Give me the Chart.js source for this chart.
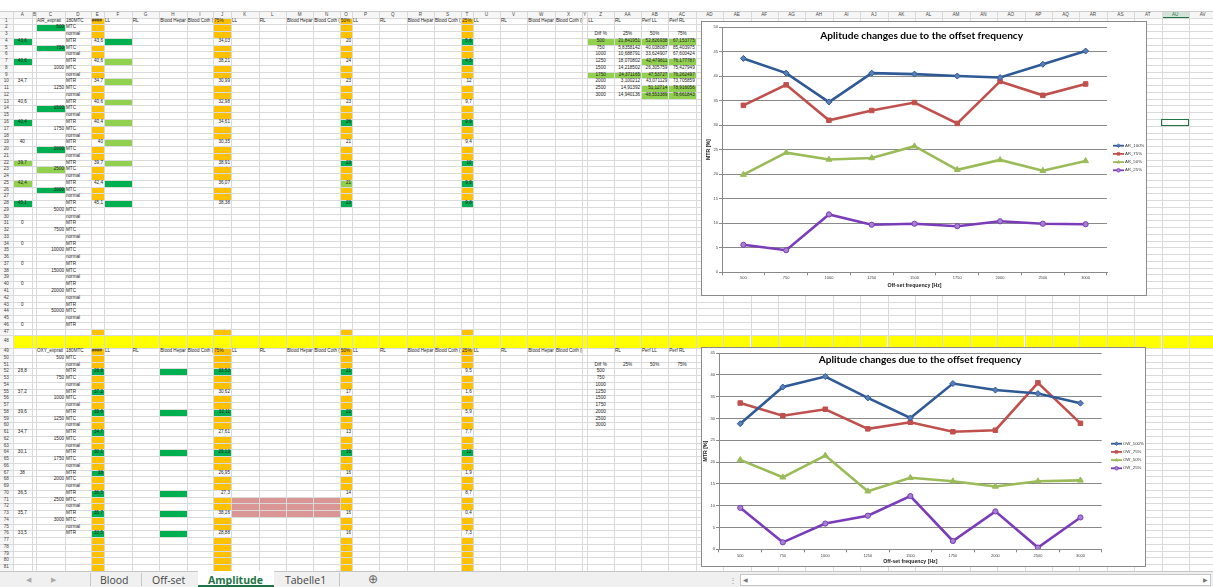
<!DOCTYPE html>
<html>
<head>
<meta charset="utf-8">
<title>Amplitude</title>
<script src="https://cdn.jsdelivr.net/npm/chart.js@4.4.1/dist/chart.umd.min.js"></script>
<style>
html, body { margin: 0; padding: 0; background: #fff; }
#sheet { position: relative; width: 1213px; height: 587px; overflow: hidden; font-family: 'Liberation Sans', Arial, sans-serif; }
.ln { position: absolute; background: #dadada; }
.f { position: absolute; }
.c { position: absolute; font-size: 4.6px; color: #222; white-space: nowrap; overflow: hidden; box-sizing: border-box; padding: 0 1px; }
.box { position: absolute; background: #fff; border: 1px solid #8a8a8a; box-sizing: border-box; }
.box canvas { position: absolute; left: 0; top: 0; }
#tabs { position: absolute; left: 0; top: 571px; width: 1213px; height: 16px; background: #f0f0f0; border-top: 1px solid #c6c6c6; box-sizing: border-box; font-family: 'Open Sans', sans-serif; font-size: 10.5px; color: #444; }
#tabs span { position: absolute; top: 1px; line-height: 14px; }
.sep { position: absolute; top: 1px; width: 1px; height: 13px; background: #c6c6c6; }
</style>
</head>
<body>
<div id="sheet">
  <div class="box" style="left:701px;top:21px;width:446px;height:275px;"><canvas id="arChart" width="444" height="273"></canvas></div>
  <div class="box" style="left:701px;top:347px;width:445px;height:220px;"><canvas id="owChart" width="443" height="218"></canvas></div>
  <div id="tabs">
    <span style="left:26px;color:#aaa;font-size:7px;">&#9664;</span>
    <span style="left:51px;color:#aaa;font-size:7px;">&#9654;</span>
    <div class="sep" style="left:90px"></div>
    <span style="left:100px">Blood</span>
    <div class="sep" style="left:141px"></div>
    <span style="left:152px">Off-set</span>
    <div style="position:absolute;left:198px;top:-1px;width:76px;height:16px;background:#fff;border-bottom:2px solid #217346;box-sizing:border-box;"></div>
    <span style="left:208px;color:#217346;font-weight:bold;">Amplitude</span>
    <span style="left:285px">Tabelle1</span>
    <div class="sep" style="left:339px"></div>
    <span style="left:368px;font-size:12px;top:0px;color:#666;">&#8853;</span>
    <span style="left:729px;color:#999;font-size:8px;">&#8942;</span>
    <div style="position:absolute;left:740px;top:2px;width:471px;height:12px;background:#fff;border:1px solid #c6c6c6;box-sizing:border-box;"></div>
    <span style="left:743px;color:#777;font-size:6px;top:2px;line-height:12px;">&#9664;</span>
    <span style="left:1203px;color:#777;font-size:6px;top:2px;line-height:12px;">&#9654;</span>
  </div>
</div>
<script>
// chart data
const freqLabels = ['500', '750', '1000', '1250', '1500', '1750', '2000', '2500', '3000'];
const ar100 = [43.6, 40.6, 34.7, 40.6, 40.4, 40.0, 39.7, 42.4, 45.1];
const ar75 = [34.03, 38.21, 30.99, 32.98, 34.61, 30.35, 38.91, 36.07, 38.38];
const ar50 = [19.9, 24.4, 23.0, 23.3, 25.7, 20.9, 22.9, 20.7, 22.7];
const ar25 = [5.6, 4.5, 11.8, 9.7, 9.9, 9.4, 10.4, 9.9, 9.8];
const ow100 = [28.8, 37.2, 39.6, 34.7, 30.1, 38.0, 36.5, 35.7, 33.5];
const ow75 = [33.53, 30.62, 32.11, 27.61, 29.13, 26.95, 27.3, 38.16, 28.88];
const ow50 = [20.5, 16.5, 21.5, 13.3, 16.4, 15.6, 14.4, 15.6, 15.8];
const ow25 = [9.5, 1.6, 5.9, 7.7, 12.2, 1.9, 8.7, 0.4, 7.3];
const arNames = ['AR_100%', 'AR_75%', 'AR_50%', 'AR_25%'];
const owNames = ['OW_100%', 'OW_75%', 'OW_50%', 'OW_25%'];
const arTicksMax = 50;
const owTicksMax = 45;

// diff table of the AIR block (columns Z..AC)
const diffFreq = ['500', '750', '1000', '1250', '1500', '1750', '2000', '2500', '3000'];
const diff25 = ['21,841951', '5,8358142', '10,688791', '18,070802', '14,218502', '24,371165', '3,100212', '14,91392', '14,940136'];
const diff50 = ['52,826938', '40,038087', '33,624907', '42,479811', '26,305759', '47,53727', '43,071129', '51,12714', '48,553389'];
const diff75 = ['67,153775', '85,403975', '67,600424', '76,177787', '75,427949', '76,262497', '73,705859', '78,916056', '78,661843'];

// ---------- spreadsheet background ----------
const sheet = document.getElementById('sheet');
const colEdges = [12.7, 32, 36, 65, 90.7, 104, 131.7, 159.3, 186.7, 213.3, 231, 258.7, 286, 313.3, 340, 352, 379, 406.7, 434, 461.3, 472.7, 500, 527.3, 555, 582.3, 587.3, 614, 641, 668.3, 695.7];
while (colEdges[colEdges.length - 1] < 1213) colEdges.push(+(colEdges[colEdges.length - 1] + 27.4).toFixed(1));

function colName(i) {
  let s = '', n = i + 1;
  while (n > 0) { const m = (n - 1) % 26; s = String.fromCharCode(65 + m) + s; n = Math.floor((n - 1) / 26); }
  return s;
}
function ci(name) {
  let n = 0;
  for (const ch of name) n = n * 26 + (ch.charCodeAt(0) - 64);
  return n - 1;
}
function rowTop(r) {
  if (r === 0) return 10.5;
  if (r <= 47) return 17.6 + (r - 1) * 6.76;
  if (r === 48) return 335.4;
  return 348 + (r - 49) * 6.75;
}
function rowH(r) {
  if (r === 0) return 7.1;
  if (r <= 47) return 6.76;
  if (r === 48) return 12.6;
  return 6.75;
}
const LAST_ROW = 82;

function el(cls, x, y, w, h, style) {
  const d = document.createElement('div');
  d.className = cls;
  d.style.left = x + 'px'; d.style.top = y + 'px';
  d.style.width = w + 'px'; d.style.height = h + 'px';
  if (style) Object.assign(d.style, style);
  sheet.insertBefore(d, sheet.firstChild.nextSibling ? null : null);
  sheet.appendChild(d);
  return d;
}
function fill(col, r, color) {
  const c = typeof col === 'string' ? ci(col) : col;
  el('f', colEdges[c], rowTop(r), colEdges[c + 1] - colEdges[c], rowH(r), { background: color });
}
function txt(col, r, s, align, extra) {
  const c = typeof col === 'string' ? ci(col) : col;
  const d = el('c', colEdges[c], rowTop(r), colEdges[c + 1] - colEdges[c], rowH(r),
    Object.assign({ textAlign: align || 'left', lineHeight: rowH(r) + 'px' }, extra || {}));
  d.textContent = s;
}

const OR = '#ffc000', G1 = '#00b050', G2 = '#92d050';
const layer = [];

// fills
for (let c = 0; c < colEdges.length - 1; c++) fill(c, 48, '#ffff00');
for (const col of ['E', 'J', 'O', 'T']) {
  for (let r = 1; r <= 28; r++) if (r === 1 || r % 3 !== 1) fill(col, r, OR);
  fill(col, 47, OR);
  for (let r = 49; r <= LAST_ROW; r++) if (r === 49 || r % 3 !== 1 || r > 76) fill(col, r, OR);
}
const greenCells = [
  ['A', 4, G1], ['A', 7, G1], ['A', 16, G1], ['A', 22, G2], ['A', 25, G2], ['A', 28, G1],
  ['C', 2, G1], ['C', 5, G1], ['C', 14, G1], ['C', 20, G1], ['C', 23, G2], ['C', 26, G1],
  ['F', 4, G1], ['F', 7, G2], ['F', 10, G2], ['F', 13, G2], ['F', 16, G2], ['F', 19, G2], ['F', 22, G2], ['F', 25, G1], ['F', 28, G1],
  ['O', 16, G1], ['O', 22, G1], ['O', 25, G2], ['O', 28, G1],
  ['T', 4, G1], ['T', 7, G1], ['T', 16, G1], ['T', 22, G1], ['T', 25, G1], ['T', 28, G1],
  ['Z', 4, G2], ['AA', 4, G2], ['AB', 4, G2], ['AC', 4, G2], ['AB', 7, G2], ['AC', 7, G2],
  ['Z', 9, G2], ['AA', 9, G2], ['AB', 9, G2], ['AC', 9, G2], ['AB', 11, G2], ['AC', 11, G2], ['AB', 12, G2], ['AC', 12, G2],
  ['H', 52, G1], ['H', 58, G1], ['H', 64, G1], ['H', 70, G1], ['H', 73, G1], ['H', 76, G1],
  ['J', 52, G1], ['J', 58, G1], ['J', 64, G1], ['O', 52, G1], ['O', 58, G1], ['O', 64, G1], ['T', 64, G1]
];
for (let r = 52; r <= 76; r += 3) greenCells.push(['E', r, G1]);
greenCells.forEach(g => fill(g[0], g[1], g[2]));
for (let r = 71; r <= 73; r++) for (const col of ['K', 'L', 'M', 'N']) fill(col, r, '#da9694');

// headers
el('f', 0, 10.5, 1213, 7.1, { background: '#f6f6f6' });
el('f', 0, 17.6, 12.7, 571 - 17.6, { background: '#f6f6f6' });
fill('AU', 0, '#d3e3da');
el('f', colEdges[ci('AU')], 16.6, colEdges[ci('AU') + 1] - colEdges[ci('AU')], 1, { background: '#217346' });

// grid lines
for (const x of colEdges) el('ln', x, 10.5, 1, 571 - 10.5);
el('ln', 0, 10.5, 1213, 1, { background: '#cfcfcf' });
for (let r = 1; r <= LAST_ROW; r++) el('ln', 0, rowTop(r), 1213, 1);

// header texts
for (let c = 0; c < colEdges.length - 1; c++) {
  txt(c, 0, colName(c), 'center', { color: c === ci('AU') ? '#217346' : '#444' });
}
for (let r = 1; r < LAST_ROW; r++) {
  const d = el('c', 0, rowTop(r), 12.7, rowH(r), { textAlign: 'center', lineHeight: rowH(r) + 'px', color: '#444' });
  d.textContent = r;
}

// sheet texts
const fmt1 = v => String(+v.toFixed(1)).replace('.', ',');
const fmtJ = v => String(v).replace('.', ',');
const fmtO = v => String(Math.round(v));
const fmtT = v => String(parseFloat(v.toPrecision(2))).replace('.', ',');
const blockHead = ['LL', 'RL', 'Blood Hepar', 'Blood Coth ('];

function block(headRow, name, s100, s75, s50, s25, extraFreq) {
  txt('C', headRow, name); txt('D', headRow, '180MTC'); txt('E', headRow, '####');
  [['F', 'J'], ['K', 'O'], ['P', 'T'], ['U', null]].forEach((pair, k) => {
    const c0 = ci(pair[0]);
    blockHead.forEach((h, j) => txt(c0 + j, headRow, (k === 3 && j === 3) ? 'Blood Coth (R)' : h));
    if (pair[1]) txt(pair[1], headRow, ['75%', '50%', '25%'][k]);
  });
  const freqs = freqLabels.concat(extraFreq);
  freqs.forEach((f, i) => {
    const r = headRow + 1 + i * 3;
    txt('C', r, f, 'right');
    txt('D', r, 'MTC'); txt('D', r + 1, 'normal'); txt('D', r + 2, 'MTR');
    if (i < 9) {
      txt('A', r + 2, fmt1(s100[i]), 'center');
      txt('E', r + 2, fmt1(s100[i]), 'right');
      txt('J', r + 2, fmtJ(s75[i]), 'right');
      txt('O', r + 2, fmtO(s50[i]), 'right');
      txt('T', r + 2, fmtT(s25[i]), 'right');
    } else if (extraFreq.length) {
      txt('A', r + 2, '0', 'center');
    }
  });
}
block(1, 'AIR_exprati', ar100, ar75, ar50, ar25, ['5000', '7500', '10000', '15000', '20000', '50000']);
block(49, 'OXY_exprati', ow100, ow75, ow50, ow25, []);

['LL', 'RL', 'Perf LL', 'Perf RL'].forEach((h, j) => txt(ci('Z') + j, 1, h));
['Diff %', '25%', '50%', '75%'].forEach((h, j) => txt(ci('Z') + j, 3, h, 'center'));
diffFreq.forEach((f, i) => {
  txt('Z', 4 + i, f, 'center');
  txt('AA', 4 + i, diff25[i], 'right');
  txt('AB', 4 + i, diff50[i], 'right');
  txt('AC', 4 + i, diff75[i], 'right');
});
['RL', 'Perf LL', 'Perf RL'].forEach((h, j) => txt(ci('AA') + j, 49, h));
['Diff %', '25%', '50%', '75%'].forEach((h, j) => txt(ci('Z') + j, 51, h, 'center'));
diffFreq.forEach((f, i) => txt('Z', 52 + i, f, 'center'));

// selected cell
el('f', colEdges[ci('AU')] - 0.5, rowTop(16) - 0.5, colEdges[ci('AU') + 1] - colEdges[ci('AU')] + 1, rowH(16) + 1,
  { border: '1.5px solid #217346', boxSizing: 'border-box' });

// keep chart boxes and tab bar on top
sheet.querySelectorAll('.box').forEach(b => sheet.appendChild(b));
sheet.appendChild(document.getElementById('tabs'));

// ---------- charts ----------
const overlayTitle = {
  id: 'overlayTitle',
  afterDraw(chart, args, o) {
    const ctx = chart.ctx;
    ctx.save();
    ctx.font = 'bold 10px Lato';
    const w = ctx.measureText(o.text).width;
    const size = 10 * o.width / w;
    ctx.font = 'bold ' + size.toFixed(2) + 'px Lato';
    ctx.fillStyle = '#000';
    ctx.textAlign = 'center';
    ctx.textBaseline = 'middle';
    ctx.fillText(o.text, o.x, o.y);
    ctx.restore();
  }
};
const sideLegend = {
  id: 'sideLegend',
  afterDraw(chart, args, o) {
    const ctx = chart.ctx;
    chart.data.datasets.forEach((ds, i) => {
      const y = o.y + i * o.step;
      ctx.save();
      ctx.strokeStyle = ds.borderColor;
      ctx.lineWidth = 1.8;
      ctx.beginPath(); ctx.moveTo(o.x, y); ctx.lineTo(o.x + 11, y); ctx.stroke();
      if (Chart.helpers && Chart.helpers.drawPoint) {
        ctx.fillStyle = ds.pointBackgroundColor;
        ctx.lineWidth = 0.8;
        Chart.helpers.drawPoint(ctx, { pointStyle: ds.pointStyle, radius: 1.8, borderWidth: 0.8, rotation: 0 }, o.x + 5.5, y);
      }
      ctx.font = '4.3px "Liberation Sans"';
      ctx.fillStyle = '#333';
      ctx.textBaseline = 'middle';
      ctx.fillText(ds.label, o.x + 12, y);
      ctx.restore();
    });
  }
};

const seriesStyle = [
  { color: '#2f5a96', fill: '#5a7fb8', marker: 'rectRot', r: 3 },
  { color: '#c0504d', fill: '#c0504d', marker: 'rect', r: 3.2 },
  { color: '#9bbb59', fill: '#9bbb59', marker: 'triangle', r: 3.4 },
  { color: '#7a3cb8', fill: '#a482cf', marker: 'circle', r: 2.6 }
];
const GRID = '#898989';
const tickFont = { family: 'Liberation Sans', size: 4 };
const titleFont = { family: 'Liberation Sans', size: 5.2, weight: 'bold' };

function makeChart(id, names, series, yMax, g) {
  return new Chart(document.getElementById(id), {
    type: 'line',
    data: {
      labels: freqLabels,
      datasets: series.map((d, i) => ({
        label: names[i], data: d,
        borderColor: seriesStyle[i].color, backgroundColor: seriesStyle[i].fill,
        borderWidth: 2.6, pointStyle: seriesStyle[i].marker, pointRadius: seriesStyle[i].r,
        pointBackgroundColor: seriesStyle[i].fill, pointBorderColor: seriesStyle[i].color,
        pointBorderWidth: 1, tension: 0, fill: false
      }))
    },
    options: {
      responsive: false, animation: false, events: [],
      layout: { padding: { left: 0, right: g.padRight, top: g.padTop, bottom: 0 } },
      plugins: {
        legend: { display: false }, title: { display: false }, tooltip: { enabled: false },
        overlayTitle: { text: 'Aplitude changes due to the offset frequency', x: g.titleX, y: g.titleY, width: 203 },
        sideLegend: { x: g.legX, y: g.legY, step: 8.2 }
      },
      scales: {
        x: {
          type: 'category', offset: true,
          grid: { offset: true, drawOnChartArea: false, drawTicks: true, tickLength: 3, color: GRID },
          border: { color: GRID },
          ticks: { font: tickFont, color: '#404040', padding: g.xTickPad, maxRotation: 0, autoSkip: false },
          title: { display: true, text: 'Off-set frequency [Hz]', font: titleFont, color: '#222', padding: { top: 0, bottom: g.xTitlePad } },
          afterFit(s) { s.height = g.xH; }
        },
        y: {
          min: 0, max: yMax,
          grid: { color: GRID, tickLength: 3 },
          border: { color: GRID },
          ticks: { stepSize: 5, font: tickFont, color: '#404040', padding: 1 },
          title: { display: true, text: 'MTR [%]', font: titleFont, color: '#222', padding: { top: g.yTitlePad, bottom: 0 } },
          afterFit(s) { s.width = g.yW; }
        }
      }
    },
    plugins: [overlayTitle, sideLegend]
  });
}

makeChart('arChart', arNames, [ar100, ar75, ar50, ar25], arTicksMax, {
  yW: 20, xH: 22.7, padRight: 39, padTop: 3.7, xTickPad: 0, xTitlePad: 5.9, yTitlePad: 3.9,
  titleX: 219.7, titleY: 13.7, legX: 411, legY: 123.7
});
makeChart('owChart', owNames, [ow100, ow75, ow50, ow25], owTicksMax, {
  yW: 17, xH: 16.7, padRight: 43.3, padTop: 3.7, xTickPad: 1, xTitlePad: 0.9, yTitlePad: 0,
  titleX: 218, titleY: 11.7, legX: 409, legY: 95.7
});
</script>
</body>
</html>
